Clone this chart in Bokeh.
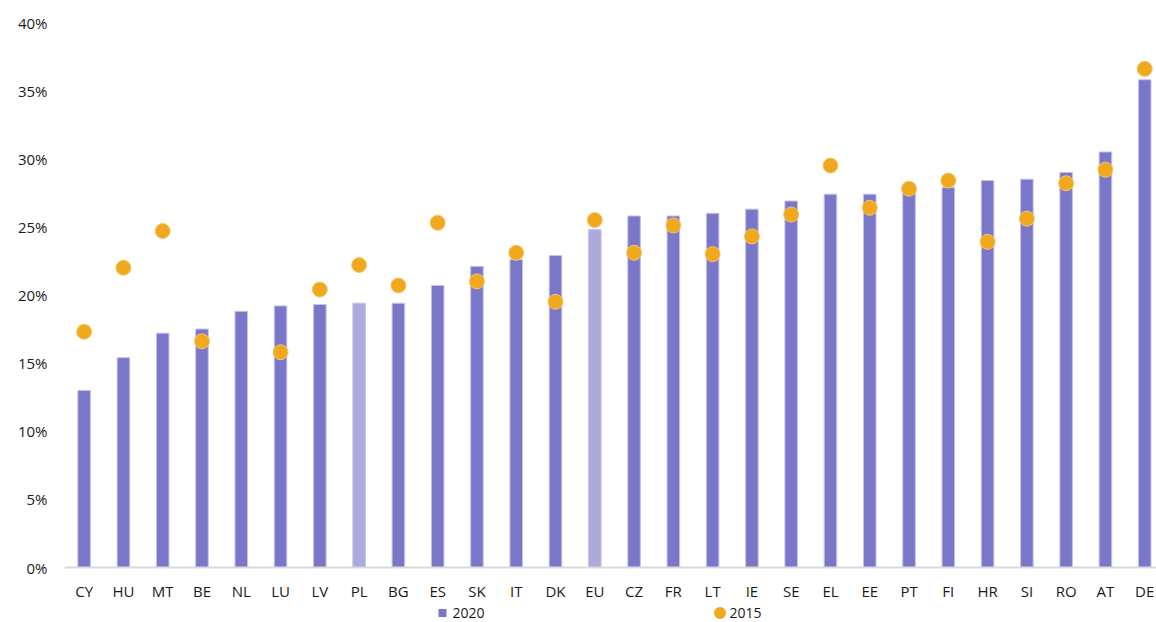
from bokeh.plotting import figure
from bokeh.layouts import column
from bokeh.models import ColumnDataSource, Range1d, FixedTicker, PrintfTickFormatter
from bokeh.core.properties import value
from bokeh.embed import file_html
from bokeh.resources import INLINE

countries = ["CY", "HU", "MT", "BE", "NL", "LU", "LV", "PL", "BG", "ES", "SK", "IT", "DK", "EU",
             "CZ", "FR", "LT", "IE", "SE", "EL", "EE", "PT", "FI", "HR", "SI", "RO", "AT", "DE"]
v2020 = [13.0, 15.4, 17.2, 17.5, 18.8, 19.2, 19.3, 19.4, 19.4, 20.7, 22.1, 22.6, 22.9, 24.8,
         25.8, 25.8, 26.0, 26.3, 26.9, 27.4, 27.4, 27.8, 27.9, 28.4, 28.5, 29.0, 30.5, 35.8]
v2015 = [17.3, 22.0, 24.7, 16.6, None, 15.8, 20.4, 22.2, 20.7, 25.3, 21.0, 23.1, 19.5, 25.5,
         23.1, 25.1, 23.0, 24.3, 25.9, 29.5, 26.4, 27.8, 28.4, 23.9, 25.6, 28.2, 29.2, 36.6]
highlight = ["PL", "EU"]
y_ticks = [0, 5, 10, 15, 20, 25, 30, 35, 40]
series_names = ["2020", "2015"]

DARK = "#7b77c8"
LIGHT = "#aca9dc"
ORANGE = "#f0a81e"
FONT = "Open Sans"
TXT = "#1a1a1a"

xs = list(range(len(countries)))
bar_colors = [LIGHT if c in highlight else DARK for c in countries]
bars = ColumnDataSource(dict(x=xs, top=v2020, color=bar_colors))
dx = [i for i, v in zip(xs, v2015) if v is not None]
dy = [v for v in v2015 if v is not None]
dots = ColumnDataSource(dict(x=dx, y=dy))

p = figure(width=1156, height=603, output_backend="svg", toolbar_location=None,
           x_range=Range1d(-0.5, 27.3), y_range=Range1d(0, 40),
           min_border_left=64, min_border_right=0, min_border_top=22, min_border_bottom=35)
p.outline_line_color = None
p.xgrid.grid_line_color = None
p.ygrid.grid_line_color = None

p.vbar(x="x", top="top", width=0.32, source=bars, fill_color="color",
       line_color="#c4c2ec", line_width=1)
p.scatter(x="x", y="y", source=dots, size=15, marker="circle",
          fill_color=ORANGE, line_color="#f6c66a", line_width=1)

p.xaxis.ticker = FixedTicker(ticks=xs)
p.xaxis.major_label_overrides = {i: c for i, c in zip(xs, countries)}
p.xaxis.axis_line_color = "#d9d9d9"
p.xaxis.axis_line_width = 2
p.xaxis.major_tick_line_color = None
p.xaxis.minor_tick_line_color = None
p.xaxis.major_tick_out = 6
p.xaxis.major_label_standoff = 7
p.xaxis.major_label_text_font = FONT
p.xaxis.major_label_text_font_size = "15px"
p.xaxis.major_label_text_color = TXT

p.yaxis.ticker = FixedTicker(ticks=y_ticks)
p.yaxis.formatter = PrintfTickFormatter(format="%d%%")
p.yaxis.axis_line_color = None
p.yaxis.major_tick_line_color = None
p.yaxis.minor_tick_line_color = None
p.yaxis.major_tick_out = 0
p.yaxis.major_label_standoff = 17
p.yaxis.major_label_text_font = FONT
p.yaxis.major_label_text_font_size = "15px"
p.yaxis.major_label_text_color = TXT

# legend strip below the chart (frame aligned with the main plot frame, px-like units)
lg = figure(width=1156, height=19, output_backend="svg", toolbar_location=None,
            x_range=Range1d(64, 1156), y_range=Range1d(0, 19),
            min_border=0, x_axis_location=None, y_axis_location=None)
lg.outline_line_color = None
lg.xgrid.grid_line_color = None
lg.ygrid.grid_line_color = None
LG_Y = 9.5
lg.scatter(x=[442], y=[LG_Y], marker="square", size=8, fill_color=DARK, line_color=None)
lg.scatter(x=[719.5], y=[LG_Y], marker="circle", size=12, fill_color=ORANGE, line_color=None)
lg.text(x=[452, 729], y=[LG_Y, LG_Y], text=series_names, text_font=value(FONT),
        text_font_size="14px", text_color=TXT, text_baseline="middle", text_align="left")

open("out.html", "w").write(file_html(column(p, lg, spacing=0), INLINE))
